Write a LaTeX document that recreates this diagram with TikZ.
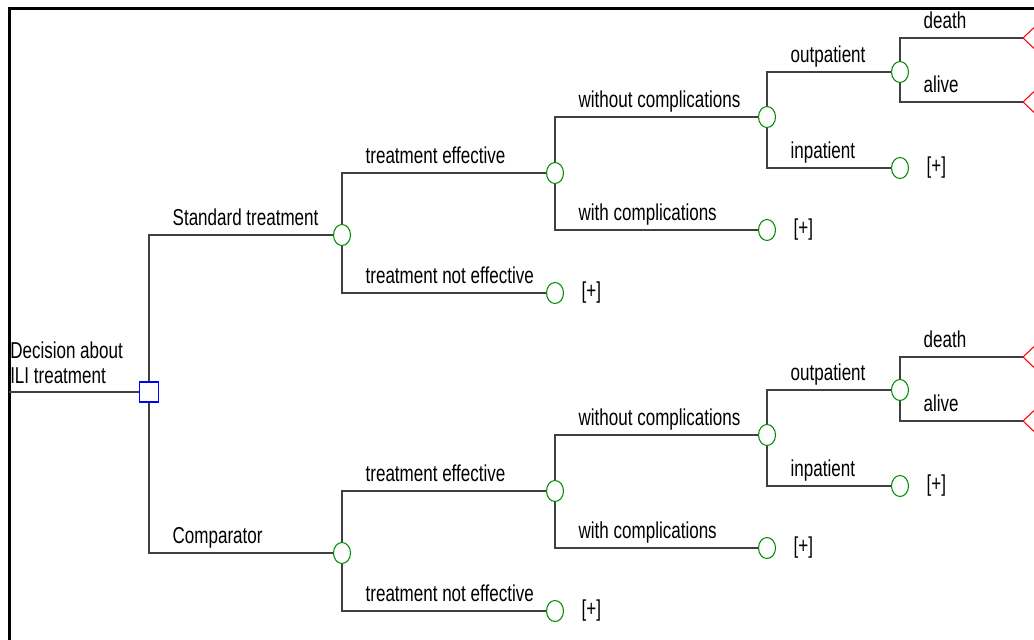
\documentclass[tikz,border=0pt]{standalone}
\usepackage{fontspec}
\setmainfont{Liberation Sans}[FakeStretch=0.74]
\usetikzlibrary{shapes.geometric}

\begin{document}
\begin{tikzpicture}[x=0.75pt, y=-0.75pt,
    font=\fontsize{17.25}{18.75}\selectfont,
    branch/.style={draw=black!75, line width=1pt},
    chance/.style={ellipse, draw=green!55!black, line width=0.8pt, fill=white,
        minimum width=12.75pt, minimum height=15.75pt, inner sep=0pt},
    decision/.style={rectangle, draw=blue, line width=0.8pt, fill=white,
        minimum width=14.25pt, minimum height=15pt, inner sep=0pt},
    terminal/.style={draw=red, line width=0.8pt},
    brlabel/.style={anchor=base west, inner sep=0pt, xshift=17.25pt, yshift=7.5pt},
    collapsed/.style={label={[label distance=13pt, inner sep=0pt]0:{[+]}}}]
    \clip (0,0) rectangle (1034,639);
    \draw[line width=2.25pt] (1040,8) -| (9.3,645);

    % decision
    \coordinate (root) at (9,392);
    \node[anchor=south west, align=left, inner sep=0pt, yshift=6pt] (DL) at (10,392) {Decision about\\ILI treatment};
    \node[decision] (D) at (149,392) {};
    \draw[branch] (root) -- (D);

    % standard treatment
    \node[chance] (ST) at (342,235) {};
    \node[chance] (STE) at (555,173) {};
    \node[chance, collapsed] (STN) at (555,293) {};
    \node[chance] (STW) at (767,117) {};
    \node[chance, collapsed] (STC) at (767,230) {};
    \node[chance] (STO) at (900,72) {};
    \node[chance, collapsed] (STI) at (900,168) {};
    \coordinate (STD) at (1023,38);
    \coordinate (STA) at (1023,102);

    % comparator
    \node[chance] (CO) at (342,553) {};
    \node[chance] (COE) at (555,491) {};
    \node[chance, collapsed] (CON) at (555,611) {};
    \node[chance] (COW) at (767,435) {};
    \node[chance, collapsed] (COC) at (767,548) {};
    \node[chance] (COO) at (900,390) {};
    \node[chance, collapsed] (COI) at (900,486) {};
    \coordinate (COD) at (1023,357);
    \coordinate (COA) at (1023,421);

    \draw[branch] (D) |- node[brlabel] {Standard treatment} (ST);
    \draw[branch] (D) |- node[brlabel] {Comparator} (CO);

    \draw[branch] (ST) |- node[brlabel] {treatment effective} (STE);
    \draw[branch] (ST) |- node[brlabel] {treatment not effective} (STN);
    \draw[branch] (STE) |- node[brlabel] {without complications} (STW);
    \draw[branch] (STE) |- node[brlabel] {with complications} (STC);
    \draw[branch] (STW) |- node[brlabel] {outpatient} (STO);
    \draw[branch] (STW) |- node[brlabel] {inpatient} (STI);
    \draw[branch] (STO) |- node[brlabel] {death} (STD);
    \draw[branch] (STO) |- node[brlabel] {alive} (STA);

    \draw[branch] (CO) |- node[brlabel] {treatment effective} (COE);
    \draw[branch] (CO) |- node[brlabel] {treatment not effective} (CON);
    \draw[branch] (COE) |- node[brlabel] {without complications} (COW);
    \draw[branch] (COE) |- node[brlabel] {with complications} (COC);
    \draw[branch] (COW) |- node[brlabel] {outpatient} (COO);
    \draw[branch] (COW) |- node[brlabel] {inpatient} (COI);
    \draw[branch] (COO) |- node[brlabel] {death} (COD);
    \draw[branch] (COO) |- node[brlabel] {alive} (COA);

    % terminal nodes
    \foreach \t in {STD, STA, COD, COA}
        \draw[terminal] (\t) -- ++(20,-19) (\t) -- ++(20,19);
\end{tikzpicture}
\end{document}
